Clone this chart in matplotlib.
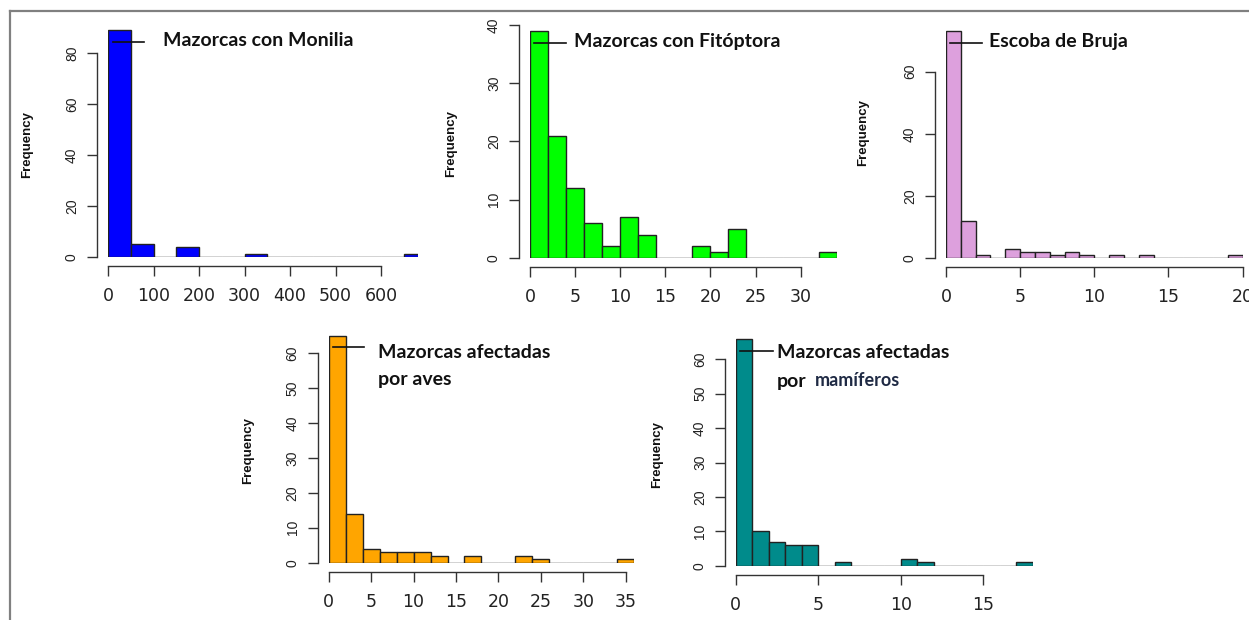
import matplotlib
matplotlib.use('Agg')
import matplotlib.pyplot as plt
from matplotlib.lines import Line2D
import numpy as np

W, H = 1249, 620
DPI = 100

# Bin edges and counts for each histogram
monilia_edges = np.arange(0, 701, 50)
monilia_counts = [89, 5, 0, 4, 0, 0, 1, 0, 0, 0, 0, 0, 0, 1]

fito_edges = np.arange(0, 35, 2)
fito_counts = [39, 21, 12, 6, 2, 7, 4, 0, 0, 2, 1, 5, 0, 0, 0, 0, 1]

escoba_edges = np.arange(0, 21, 1)
escoba_counts = [73, 12, 1, 0, 3, 2, 2, 1, 2, 1, 0, 1, 0, 1, 0, 0, 0, 0, 0, 1]

aves_edges = np.arange(0, 37, 2)
aves_counts = [65, 14, 4, 3, 3, 3, 2, 0, 2, 0, 0, 2, 1, 0, 0, 0, 0, 1]

mamif_edges = np.arange(0, 19, 1)
mamif_counts = [66, 10, 7, 6, 6, 0, 1, 0, 0, 0, 2, 1, 0, 0, 0, 0, 0, 1]

monilia_xticks = [0, 100, 200, 300, 400, 500, 600]
fito_xticks = [0, 5, 10, 15, 20, 25, 30]
escoba_xticks = [0, 5, 10, 15, 20]
aves_xticks = [0, 5, 10, 15, 20, 25, 30, 35]
mamif_xticks = [0, 5, 10, 15]

monilia_yticks = [0, 20, 40, 60, 80]
fito_yticks = [0, 10, 20, 30, 40]
escoba_yticks = [0, 20, 40, 60]
aves_yticks = [0, 10, 20, 30, 40, 50, 60]
mamif_yticks = [0, 10, 20, 30, 40, 50, 60]

fig = plt.figure(figsize=(W / DPI, H / DPI), dpi=DPI)


def fx(px):
    return px / W


def fy(py):
    return 1 - py / H


def px2pt(p):
    return p * 72 / DPI


def hist_panel(x0, y0, xscale, yscale, xlim, ylim, edges, counts, color,
               xticks, yticks, yout=11, xout=9):
    # x0, y0: pixel position of data origin; scales in px per unit
    left = fx(x0)
    bottom = fy(y0)
    width = (xlim[1] - xlim[0]) * xscale / W
    height = (ylim[1] - ylim[0]) * yscale / H
    ax = fig.add_axes([left, bottom, width, height])
    ax.set_facecolor('none')
    ax.bar(edges[:-1], counts, width=np.diff(edges), align='edge',
           color=color, edgecolor='#222222', linewidth=1.0, clip_on=True)
    ax.set_xlim(*xlim)
    ax.set_ylim(*ylim)
    for s in ['top', 'right']:
        ax.spines[s].set_visible(False)
    ax.spines['left'].set_position(('outward', px2pt(yout)))
    ax.spines['bottom'].set_position(('outward', px2pt(xout)))
    ax.spines['left'].set_bounds(yticks[0], yticks[-1])
    ax.spines['bottom'].set_bounds(xticks[0], xticks[-1])
    for s in ['left', 'bottom']:
        ax.spines[s].set_color('#333333')
        ax.spines[s].set_linewidth(1.0)
    ax.set_xticks(xticks)
    ax.set_yticks(yticks)
    ax.set_xticklabels([str(t) for t in xticks],
                       family=['Liberation Sans Narrow', 'DejaVu Sans'],
                       fontsize=12.5, color='#222222')
    ax.set_yticklabels([str(t) for t in yticks], rotation=90, va='center',
                       family=['Liberation Sans', 'DejaVu Sans'],
                       fontsize=10, color='#222222')
    ax.tick_params(axis='both', length=px2pt(10), width=1.0, color='#333333')
    ax.tick_params(axis='x', pad=px2pt(11))
    ax.tick_params(axis='y', pad=px2pt(8))
    return ax


ax1 = hist_panel(108, 257, 0.455, 2.55, (0, 681), (0, 92),
                 monilia_edges, monilia_counts, '#0000FF',
                 monilia_xticks, monilia_yticks)
ax2 = hist_panel(530, 258, 9.02, 5.825, (0, 34), (0, 41),
                 fito_edges, fito_counts, '#00FF00',
                 fito_xticks, fito_yticks)
ax3 = hist_panel(946, 258.3, 14.83, 3.11, (0, 20), (0, 75),
                 escoba_edges, escoba_counts, '#DDA0DD',
                 escoba_xticks, escoba_yticks, xout=8.5)
ax4 = hist_panel(328.7, 562.7, 8.486, 3.49, (0, 36), (0, 66),
                 aves_edges, aves_counts, '#FFA500',
                 aves_xticks, aves_yticks)
ax5 = hist_panel(735.7, 565.7, 16.5, 3.44, (0, 18), (0, 67),
                 mamif_edges, mamif_counts, '#008B8B',
                 mamif_xticks, mamif_yticks, yout=10.7, xout=9.3)

# "Frequency" axis titles
for (px, py) in [(27, 145), (451, 143), (863, 133), (248, 450), (657, 454)]:
    fig.text(fx(px), fy(py), 'Frequency', rotation=90, ha='center', va='center',
             family=['Liberation Sans', 'DejaVu Sans'], fontweight='bold',
             fontsize=9.5, color='#111111')

# Panel captions with short leader lines
lab_font = dict(family=['Lato', 'DejaVu Sans'], fontweight='bold',
                fontsize=14, color='#111111', va='center', ha='left')


def leader(x1, x2, y):
    fig.add_artist(Line2D([fx(x1), fx(x2)], [fy(y), fy(y)],
                          color='#111111', lw=1.2))


leader(113, 144, 42)
fig.text(fx(163), fy(41), 'Mazorcas con Monilia', **lab_font)

leader(534, 566, 43)
fig.text(fx(574), fy(41), 'Mazorcas con Fitóptora', **lab_font)

leader(950, 982, 42.7)
fig.text(fx(989), fy(42), 'Escoba de Bruja', **lab_font)

leader(333, 364, 347)
fig.text(fx(378), fy(353), 'Mazorcas afectadas', **lab_font)
fig.text(fx(378), fy(379), 'por aves', **lab_font)

leader(740, 773, 350.7)
fig.text(fx(776.7), fy(353), 'Mazorcas afectadas', **lab_font)
fig.text(fx(776.7), fy(381.7), 'por', **lab_font)
fig.text(fx(815), fy(380.5), 'mamíferos',
         **{**lab_font, 'fontsize': 13, 'color': '#1f2a44'})

# Outer grey frame (top and left edges)
fig.add_artist(Line2D([fx(9.5), fx(W)], [fy(10.5), fy(10.5)],
                      color='#808080', lw=1.6))
fig.add_artist(Line2D([fx(9.5), fx(9.5)], [fy(10.5), fy(H)],
                      color='#808080', lw=1.6))

fig.savefig('out.png', dpi=DPI)
